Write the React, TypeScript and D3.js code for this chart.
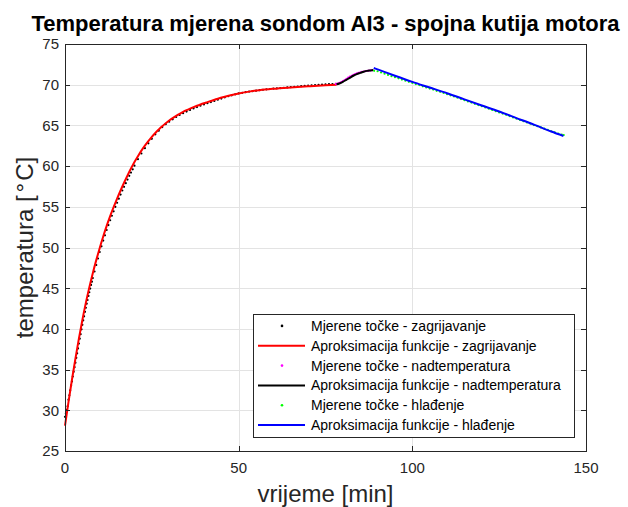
import React from 'react';
import * as d3 from 'd3';

const W = 628;
const H = 507;

const titleText = 'Temperatura mjerena sondom AI3 - spojna kutija motora';
const xLabel = 'vrijeme [min]';

const xTicks = [0, 50, 100, 150];
const yTicks = [25, 30, 35, 40, 45, 50, 55, 60, 65, 70, 75];

// Measured points - heating (black dots)
const heatMeasured: [number, number][] = [
  [0, 29.2], [0.25, 29.6], [0.5, 30.05], [0.75, 30.5], [1, 31.3], [1.25, 31.85], [1.5, 32.45], [1.75, 33.05],
  [2, 33.55], [2.25, 34.15], [2.5, 34.75], [2.75, 35.3], [3, 35.85], [3.25, 36.45], [3.5, 37.0], [3.75, 37.6],
  [4, 38.2], [4.25, 38.8], [4.5, 39.35], [4.75, 39.95], [5, 40.5], [5.25, 41.05], [5.5, 41.55], [5.75, 42.1],
  [6, 42.6], [6.25, 43.1], [6.5, 43.55], [6.75, 44.05], [7, 44.5], [7.25, 44.95], [7.5, 45.4], [7.75, 45.8],
  [8, 46.25], [8.5, 47.05], [9, 47.85], [9.5, 48.65], [10, 49.45], [10.5, 50.15], [11, 50.85], [11.5, 51.5],
  [12, 52.15], [12.5, 52.75], [13, 53.35], [13.5, 53.9], [14, 54.45], [14.5, 55.0], [15, 55.5], [15.5, 56.0],
  [16, 56.5], [16.5, 57.0], [17, 57.45], [17.5, 57.9], [18, 58.35], [18.5, 58.8], [19, 59.2], [19.5, 59.6],
  [20, 60.05], [21, 60.85], [22, 61.55], [23, 62.2], [24, 62.8], [25, 63.35], [26, 63.9], [27, 64.35],
  [28, 64.8], [29, 65.15], [30, 65.45], [31, 65.75], [32, 66.03], [33, 66.28], [34, 66.5], [35, 66.7],
  [36, 66.9], [37, 67.08], [38, 67.25], [39, 67.42], [40, 67.57], [41, 67.72], [42, 67.86], [43, 68.0],
  [44, 68.16], [45, 68.3], [46, 68.45], [47, 68.58], [48, 68.7], [49, 68.82], [50, 68.93], [51, 69.0],
  [52, 69.08], [53, 69.15], [54, 69.21], [55, 69.27], [56, 69.33], [57, 69.38], [58, 69.43], [59, 69.47],
  [60, 69.52], [61, 69.55], [62, 69.58], [63, 69.62], [64, 69.66], [65, 69.7], [66, 69.74], [67, 69.78],
  [68, 69.82], [69, 69.85], [70, 69.88], [71, 69.92], [72, 69.95], [73, 69.98], [74, 70.0], [75, 70.03],
  [76, 70.06], [77, 70.08], [78, 70.1],
];

// Fitted function - heating (red line)
const heatFit: [number, number][] = [
  [0, 28.1], [1, 31.0], [2, 33.75], [3, 36.35], [4, 38.8], [5, 41.1], [6, 43.2], [7, 45.1], [8, 46.85],
  [9, 48.45], [10, 49.95], [11, 51.35], [12, 52.65], [13, 53.85], [14, 54.95], [15, 56.0], [16, 57.0],
  [17, 57.95], [18, 58.85], [19, 59.7], [20, 60.5], [21, 61.22], [22, 61.9], [23, 62.52], [24, 63.08],
  [25, 63.6], [26, 64.07], [27, 64.5], [28, 64.9], [29, 65.27], [30, 65.6], [31, 65.9], [32, 66.18],
  [33, 66.43], [34, 66.66], [35, 66.87], [36, 67.06], [37, 67.24], [38, 67.41], [39, 67.57], [40, 67.72],
  [41, 67.86], [42, 68.0], [44, 68.28], [46, 68.52], [48, 68.74], [50, 68.93], [53, 69.15], [56, 69.33],
  [60, 69.5], [65, 69.66], [70, 69.8], [75, 69.93], [78.2, 70.0],
];

// Measured points - overtemperature (magenta dots)
const overMeasured: [number, number][] = [
  [78, 70.1], [78.5, 70.15], [79, 70.22], [79.5, 70.32], [80, 70.45], [80.5, 70.58], [81, 70.72],
  [81.5, 70.86], [82, 71.0], [82.5, 71.1], [83, 71.2], [83.5, 71.3], [84, 71.38], [84.5, 71.45],
  [85, 71.52], [85.5, 71.57], [86, 71.62], [86.5, 71.66], [87, 71.7], [87.5, 71.72], [88, 71.75],
  [88.5, 71.77],
];

// Fitted function - overtemperature (black line)
const overFit: [number, number][] = [
  [78.2, 70.05], [79, 70.15], [80, 70.35], [81, 70.6], [82, 70.85], [83, 71.1], [84, 71.3],
  [85, 71.45], [86, 71.6], [87, 71.7], [88, 71.75], [88.8, 71.8],
];

// Measured points - cooling (green dots)
const coolMeasured: [number, number][] = [
  [89, 71.7], [90, 71.65], [91, 71.5], [92, 71.35], [93, 71.2], [94, 71.05], [95, 70.92], [96, 70.78],
  [97, 70.63], [98, 70.5], [99, 70.35], [100, 70.22], [101, 70.08], [102, 69.95], [103, 69.8],
  [104, 69.67], [105, 69.53], [106, 69.4], [107, 69.25], [108, 69.12], [109, 68.98], [110, 68.84],
  [111, 68.7], [112, 68.55], [113, 68.4], [114, 68.25], [115, 68.1], [116, 67.95], [117, 67.8],
  [118, 67.65], [119, 67.5], [120, 67.36], [121, 67.2], [122, 67.05], [123, 66.9], [124, 66.75],
  [125, 66.6], [126, 66.45], [127, 66.3], [128, 66.14], [129, 65.98], [130, 65.82], [131, 65.67],
  [132, 65.52], [133, 65.36], [134, 65.2], [135, 65.04], [136, 64.9], [137, 64.75], [138, 64.6],
  [139, 64.44], [140, 64.28], [141, 64.14], [142, 64.0], [143, 63.88], [143.6, 63.82],
];

// Fitted function - cooling (blue line)
const coolFit: [number, number][] = [
  [88.9, 72.05], [90, 71.88], [95, 71.1], [100, 70.35], [105, 69.65], [110, 68.95], [115, 68.2],
  [120, 67.45], [125, 66.7], [130, 65.9], [135, 65.1], [140, 64.25], [143.5, 63.7],
];

const legendLabels = [
  'Mjerene točke - zagrijavanje',
  'Aproksimacija funkcije - zagrijavanje',
  'Mjerene točke - nadtemperatura',
  'Aproksimacija funkcije - nadtemperatura',
  'Mjerene točke - hlađenje',
  'Aproksimacija funkcije - hlađenje',
];
const legendKinds = ['dot', 'line', 'dot', 'line', 'dot', 'line'];
const legendColors = ['#000000', '#ff0000', '#ff00ff', '#000000', '#00ff00', '#0000ff'];

const FONT = '"Liberation Sans", Arial, Helvetica, sans-serif';
const AX = '#262626';

export default function App() {
  const left = 65, right = 586, top = 44, bottom = 451;
  const x = d3.scaleLinear().domain([0, 150]).range([left, right]);
  const y = d3.scaleLinear().domain([25, 75]).range([bottom, top]);
  const line = d3
    .line<[number, number]>()
    .x((d) => x(d[0]))
    .y((d) => y(d[1]))
    .curve(d3.curveMonotoneX);

  const tick = 5;
  const lg = { x0: 253, y0: 314, x1: 574, y1: 437 };
  const rowH = (lg.y1 - lg.y0 - 4) / 6;

  const dots = (data: [number, number][], color: string) =>
    data.map((d, i) => <circle key={i} cx={x(d[0])} cy={y(d[1])} r={1.1} fill={color} />);

  return (
    <svg
      width={W}
      height={H}
      style={{ position: 'absolute', left: 0, top: 0, background: '#fff' }}
      fontFamily={FONT}
    >
      <rect x={0} y={0} width={W} height={H} fill="#ffffff" />
      {/* grid */}
      <g stroke="#e3e3e3" strokeWidth={1}>
        {xTicks.slice(1, -1).map((t) => (
          <line key={'gx' + t} x1={Math.round(x(t)) + 0.5} x2={Math.round(x(t)) + 0.5} y1={top} y2={bottom} />
        ))}
        {yTicks.slice(1, -1).map((t) => (
          <line key={'gy' + t} x1={left} x2={right} y1={Math.round(y(t)) + 0.5} y2={Math.round(y(t)) + 0.5} />
        ))}
      </g>

      {/* data */}
      <g>{dots(heatMeasured, '#000000')}</g>
      <path d={line(heatFit) || ''} fill="none" stroke="#ff0000" strokeWidth={2} />
      <g>{dots(overMeasured, '#ff00ff')}</g>
      <path d={line(overFit) || ''} fill="none" stroke="#000000" strokeWidth={2} />
      <g>{dots(coolMeasured, '#00ff00')}</g>
      <path d={line(coolFit) || ''} fill="none" stroke="#0000ff" strokeWidth={2} />

      {/* axes box and ticks */}
      <g stroke={AX} strokeWidth={1} fill="none">
        <rect x={left + 0.5} y={top + 0.5} width={right - left} height={bottom - top} />
        {xTicks.map((t) => {
          const px = Math.round(x(t)) + 0.5;
          return (
            <g key={'tx' + t}>
              <line x1={px} x2={px} y1={bottom} y2={bottom - tick} />
              <line x1={px} x2={px} y1={top} y2={top + tick} />
            </g>
          );
        })}
        {yTicks.map((t) => {
          const py = Math.round(y(t)) + 0.5;
          return (
            <g key={'ty' + t}>
              <line x1={left} x2={left + tick} y1={py} y2={py} />
              <line x1={right} x2={right - tick} y1={py} y2={py} />
            </g>
          );
        })}
      </g>

      {/* tick labels */}
      <g fill={AX} fontSize={15}>
        {xTicks.map((t) => (
          <text key={'lx' + t} x={x(t)} y={473} textAnchor="middle">
            {t}
          </text>
        ))}
        {yTicks.map((t) => (
          <text key={'ly' + t} x={59} y={y(t) + 5.3} textAnchor="end">
            {t}
          </text>
        ))}
      </g>

      {/* axis labels */}
      <text x={(left + right) / 2} y={502} textAnchor="middle" fontSize={24} fill={AX}>
        {xLabel}
      </text>
      <text
        transform={`translate(33,${(top + bottom) / 2}) rotate(-90)`}
        textAnchor="middle"
        fontSize={24}
        fill={AX}
      >
        temperatura [<tspan dx={3}>°</tspan><tspan dx={2}>C]</tspan>
      </text>

      {/* title */}
      <text x={(left + right) / 2} y={31} textAnchor="middle" fontSize={22} fontWeight="bold" fill="#000">
        {titleText}
      </text>

      {/* legend */}
      <g>
        <rect
          x={lg.x0 + 0.5}
          y={lg.y0 + 0.5}
          width={lg.x1 - lg.x0}
          height={lg.y1 - lg.y0}
          fill="#ffffff"
          stroke={AX}
          strokeWidth={1}
        />
        {legendLabels.map((lab, i) => {
          const cy = lg.y0 + 2 + rowH * (i + 0.5);
          return (
            <g key={'lg' + i}>
              {legendKinds[i] === 'line' ? (
                <line x1={258} x2={305} y1={cy} y2={cy} stroke={legendColors[i]} strokeWidth={2} />
              ) : (
                <circle cx={282} cy={cy} r={1.3} fill={legendColors[i]} />
              )}
              <text x={311} y={cy + 5} fontSize={14} fill="#000">
                {lab}
              </text>
            </g>
          );
        })}
      </g>
    </svg>
  );
}
